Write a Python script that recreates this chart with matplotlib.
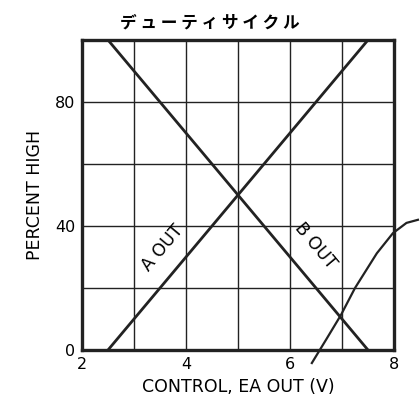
import matplotlib.pyplot as plt

# デューティサイクル: A/B 出力のデューティ比
a_out_x = [2.5, 7.5]
a_out_y = [0, 100]
b_out_x = [2.5, 7.5]
b_out_y = [100, 0]

# 右側へ伸びる引き出し線
lead_x = [6.42, 6.7, 6.98, 7.25, 7.67, 7.98, 8.24, 8.46]
lead_y = [-4.2, 3.5, 11.3, 20, 31.2, 37.7, 41, 42]

x_ticks = [2, 3, 4, 5, 6, 7, 8]
x_labels = ['2', '', '4', '', '6', '', '8']
y_ticks = [0, 20, 40, 60, 80, 100]
y_labels = ['0', '', '40', '', '80', '']

plt.rcParams['font.family'] = ['DejaVu Sans']

fig = plt.figure(figsize=(4.2, 3.99), dpi=100)
ax = fig.add_axes([82/420, 49/399, 312/420, 310/399])

ax.plot(a_out_x, a_out_y, color='#222222', lw=2)
ax.plot(b_out_x, b_out_y, color='#222222', lw=2)
ax.plot(lead_x, lead_y, color='#222222', lw=1.6, clip_on=False)

ax.set_xlim(2, 8)
ax.set_ylim(0, 100)
ax.set_xticks(x_ticks)
ax.set_xticklabels(x_labels)
ax.set_yticks(y_ticks)
ax.set_yticklabels(y_labels)
ax.tick_params(length=0, labelsize=11.5, pad=5)
ax.grid(True, color='#222222', lw=1)

for s in ax.spines.values():
    s.set_linewidth(2.4)
    s.set_color('#222222')

ax.text(3.56, 33, 'A OUT', rotation=50, ha='center', va='center', fontsize=12.5)
ax.text(6.48, 33.5, 'B OUT', rotation=-50, ha='center', va='center', fontsize=12.5)

ax.set_xlabel('CONTROL, EA OUT (V)', fontsize=12.5, labelpad=4)
ax.set_ylabel('PERCENT HIGH', fontsize=12.5, labelpad=8)
ax.set_title('デ ュ ー テ ィ サ イ ク ル', fontsize=12, fontweight='bold',
             family=['Noto Sans CJK JP', 'DejaVu Sans'], pad=9, x=0.41)

fig.savefig('out.png')
